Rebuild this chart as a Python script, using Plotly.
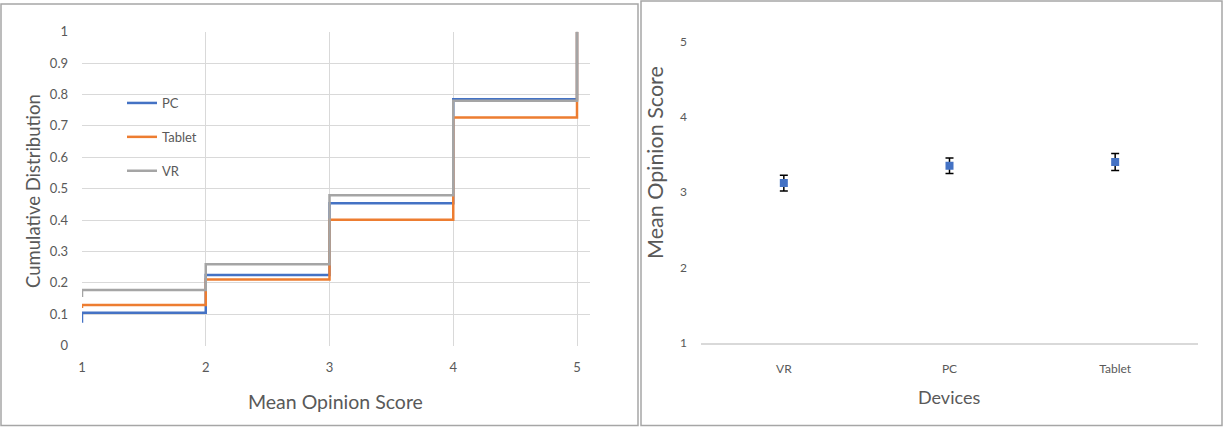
import plotly.graph_objects as go

# ---------------- data ----------------
scores = [1, 2, 3, 4, 5]
cdf_start = {"PC": 0.073, "Tablet": 0.12, "VR": 0.155}
pc_cdf = [0.105, 0.225, 0.454, 0.785, 1.0]
tablet_cdf = [0.130, 0.211, 0.401, 0.727, 1.0]
vr_cdf = [0.177, 0.259, 0.479, 0.780, 1.0]
series_colors = {"PC": "#4472C4", "Tablet": "#ED7D31", "VR": "#A5A5A5"}

devices = ["VR", "PC", "Tablet"]
mos = [3.12, 3.35, 3.40]
mos_err = [0.105, 0.104, 0.112]

y_ticks_left = [0, 0.1, 0.2, 0.3, 0.4, 0.5, 0.6, 0.7, 0.8, 0.9, 1]
y_ticktext_left = ["0", "0.1", "0.2", "0.3", "0.4", "0.5", "0.6", "0.7", "0.8", "0.9", "1"]
y_ticks_right = [1, 2, 3, 4, 5]

W, H = 1225, 427
FONT = "Lato"
TICK_COL = "#595959"

def px_x(p):
    return p / W

def px_y(p):
    return 1 - p / H

fig = go.Figure()

def step_trace(name, vals):
    xs = [scores[0]] + scores[:-1] + [scores[-1], scores[-1]]
    ys = [cdf_start[name]] + vals[:-1] + [vals[-2], vals[-1]]
    return go.Scatter(
        x=xs, y=ys, mode="lines", name=name, line_shape="hv",
        line=dict(color=series_colors[name], width=2.5),
        xaxis="x", yaxis="y", cliponaxis=False, legendgroup=name,
    )

fig.add_trace(step_trace("PC", pc_cdf))
fig.add_trace(step_trace("Tablet", tablet_cdf))
fig.add_trace(step_trace("VR", vr_cdf))

fig.add_trace(go.Scatter(
    x=devices, y=mos, mode="markers", showlegend=False,
    marker=dict(symbol="square", size=8, color="#4472C4"),
    error_y=dict(type="data", array=mos_err, color="#000000", thickness=1.5, width=4),
    xaxis="x2", yaxis="y2",
))

fig.update_layout(
    template="none",
    width=W, height=H, autosize=False,
    margin=dict(l=0, r=0, t=0, b=0, pad=0, autoexpand=False),
    paper_bgcolor="white", plot_bgcolor="white",
    font=dict(family=FONT, color=TICK_COL),
    xaxis=dict(
        domain=[px_x(82), px_x(590)], range=[1, 5.105], automargin=False,
        tickvals=scores, showgrid=True, gridcolor="#D9D9D9", gridwidth=1,
        zeroline=False, showline=False, anchor="y",
        tickfont=dict(size=13, color=TICK_COL), ticks="", ticklabelstandoff=12,
    ),
    yaxis=dict(
        domain=[px_y(345.7), px_y(31.7)], range=[0, 1], automargin=False,
        tickvals=y_ticks_left, ticktext=y_ticktext_left,
        showgrid=True, gridcolor="#D9D9D9", gridwidth=1, zeroline=False,
        showline=False, anchor="x",
        tickfont=dict(size=13, color=TICK_COL), ticks="", ticklabelstandoff=13,
    ),
    xaxis2=dict(
        domain=[px_x(701), px_x(1198)], range=[-0.5, 2.5], type="category", automargin=False,
        showgrid=False, zeroline=False, showline=True, linecolor="#D9D9D9", linewidth=1.5,
        anchor="y2", tickfont=dict(size=12, color=TICK_COL), ticks="", ticklabelstandoff=14,
    ),
    yaxis2=dict(
        domain=[px_y(342.7), px_y(41.5)], range=[1, 5], automargin=False,
        tickvals=y_ticks_right, showgrid=False, zeroline=False, showline=False,
        anchor="x2", tickfont=dict(size=12, color=TICK_COL), ticks="", ticklabelstandoff=13,
    ),
    legend=dict(
        x=px_x(122), y=px_y(88), xanchor="left", yanchor="top",
        bgcolor="rgba(0,0,0,0)", font=dict(size=13, color=TICK_COL),
        tracegroupgap=14, itemwidth=30, borderwidth=0,
    ),
    showlegend=True,
)

# axis titles
def title(text, xp, yp, size, angle=0):
    fig.add_annotation(text=text, x=px_x(xp), y=px_y(yp), xref="paper", yref="paper",
                       xanchor="center", yanchor="middle", showarrow=False, textangle=angle,
                       font=dict(size=size, color=TICK_COL, family=FONT))

title("Mean Opinion Score", 335, 401, 19.5)
title("Cumulative Distribution", 33, 191, 18.5, -90)
title("Devices", 949, 397, 18)
title("Mean Opinion Score", 655, 163, 21.5, -90)

# panel borders
fig.add_shape(type="rect", xref="paper", yref="paper",
              x0=px_x(1), x1=px_x(638), y0=px_y(425.5), y1=px_y(4),
              line=dict(color="#A6A6A6", width=1.5))
fig.add_shape(type="rect", xref="paper", yref="paper",
              x0=px_x(641), x1=px_x(1222), y0=px_y(425.5), y1=px_y(1),
              line=dict(color="#A6A6A6", width=1.5))

fig.write_html(
    "out.html",
    config={"displayModeBar": False},
    post_script="document.body.style.margin='0';document.body.style.padding='0';document.body.style.overflow='hidden';",
)
